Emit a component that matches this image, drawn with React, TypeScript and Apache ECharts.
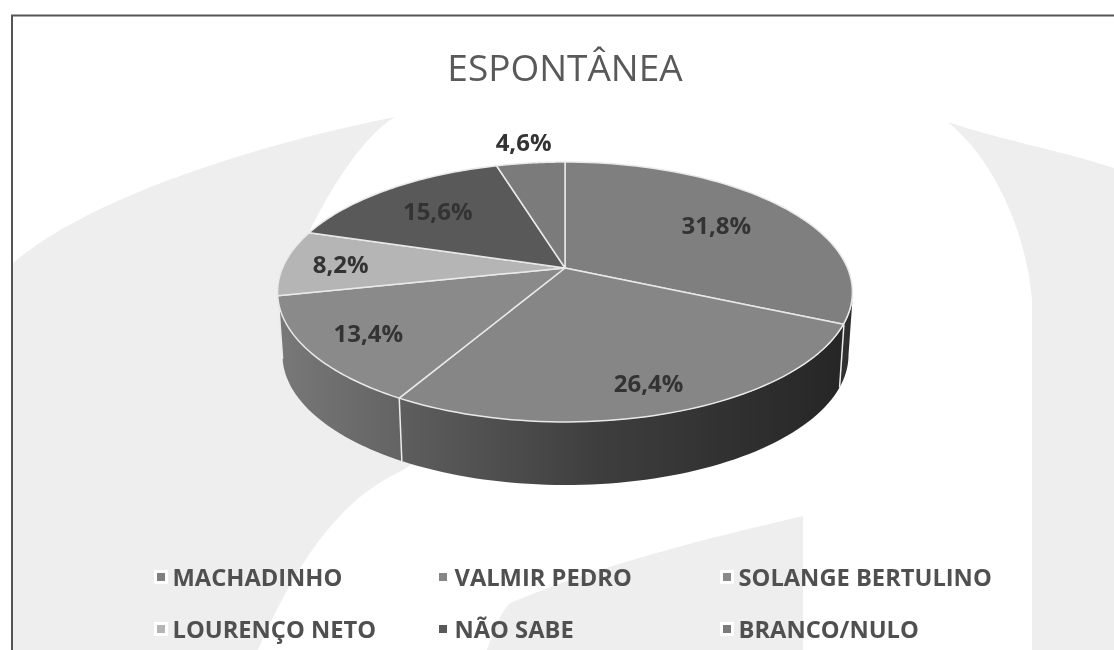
import React, { useEffect, useRef } from "react";
import * as echarts from "echarts";

const categories = ["MACHADINHO", "VALMIR PEDRO", "SOLANGE BERTULINO", "LOURENÇO NETO", "NÃO SABE", "BRANCO/NULO"];
const values = [31.8, 26.4, 13.4, 8.2, 15.6, 4.6];
const colors = ["#7f7f7f", "#868686", "#8a8a8a", "#b5b5b5", "#595959", "#7b7b7b"];
const legendColumns = [[0, 3], [1, 4], [2, 5]];
const legendLefts = [149, 431, 715];
const labelRadius = [0.68, 0.82, 0.79, 0.8, 0.7, 1.25];
const titleText = "ESPONTÂNEA";

const total = values.reduce((a, b) => a + b, 0);

// Perspective disc: the apex sits above the centre of the projected ellipse.
const APEX = { x: 565, y: 268 };
const TILT = 0.1846;
const AX = 282.5;
const AY = 125.5;
const TOP_E = { cx: 565.5, cy: 292, rx: 287.5, ry: 130 };
const BOT_E = { cx: 565.5, cy: 355, rx: 283, ry: 130 };

const project = (theta: number, r = 1) => {
  const X = Math.sin(theta) * r;
  const Y = -Math.cos(theta) * r;
  const w = 1 - TILT * Y;
  return [APEX.x + (AX * X) / w, APEX.y + (AY * Y) / w];
};
const toParam = (theta: number) => {
  const [x, y] = project(theta);
  let a = Math.atan2((y - TOP_E.cy) / TOP_E.ry, (x - TOP_E.cx) / TOP_E.rx);
  if (a < -Math.PI / 2 - 0.02) a += Math.PI * 2;
  return a;
};
const onEllipse = (e: typeof TOP_E, a: number) => [e.cx + e.rx * Math.cos(a), e.cy + e.ry * Math.sin(a)];

const sideGradients: any[] = [
  new echarts.graphic.LinearGradient(835, 0, 855, 0, [{ offset: 0, color: "#333333" }, { offset: 1, color: "#2e2e2e" }], true),
  new echarts.graphic.LinearGradient(400, 0, 840, 0, [{ offset: 0, color: "#5e5e5e" }, { offset: 0.45, color: "#3e3e3e" }, { offset: 1, color: "#262626" }], true),
  new echarts.graphic.LinearGradient(280, 0, 402, 0, [{ offset: 0, color: "#787878" }, { offset: 1, color: "#636363" }], true),
  "#777777",
  "#555555",
  "#6f6f6f",
];

echarts.graphic.registerShape("wmLeft", echarts.graphic.extendPath("M13 263 C80 205 230 150 395 117 C367 133 335 180 310 230 L330 300 L450 440 L403 470 C360 490 310 530 258 650 L13 650 Z", {}));
echarts.graphic.registerShape("wmMid", echarts.graphic.extendPath("M487 650 C495 625 503 610 510 603 C600 565 700 540 803 516 L803 650 Z", {}));
echarts.graphic.registerShape("wmRight", echarts.graphic.extendPath("M948 122 C1000 140 1060 150 1114 168 L1114 650 L1032 650 L1032 300 C1028 250 1005 170 948 122 Z", {}));

const sliceSeries = (i: number) => ({
  type: "custom",
  name: categories[i],
  coordinateSystem: "none",
  data: [[values[i]]],
  itemStyle: { color: colors[i] },
  silent: true,
  renderItem: (_p: any, api: any) => {
    const v = api.value(0);
    const before = values.slice(0, i).reduce((a, b) => a + b, 0);
    const t0 = (before / total) * Math.PI * 2;
    const t1 = ((before + v) / total) * Math.PI * 2;
    const n = 60;
    const arc: number[][] = [];
    for (let k = 0; k <= n; k++) arc.push(project(t0 + ((t1 - t0) * k) / n));
    const children: any[] = [];

    const a0 = toParam(t0);
    const a1 = i === values.length - 1 ? Math.PI * 1.5 : toParam(t1);
    const lo = Math.max(a0, 0);
    const hi = Math.min(a1, Math.PI);
    if (hi > lo) {
      const pts: number[][] = [];
      for (let k = 0; k <= n; k++) pts.push(onEllipse(TOP_E, lo + ((hi - lo) * k) / n));
      for (let k = n; k >= 0; k--) pts.push(onEllipse(BOT_E, lo + ((hi - lo) * k) / n));
      children.push({ type: "polygon", z2: 0, shape: { points: pts }, style: { fill: sideGradients[i] } });
      if (a0 > 0 && a0 < Math.PI) {
        const p = onEllipse(TOP_E, a0);
        const q = onEllipse(BOT_E, a0);
        children.push({ type: "line", z2: 1, shape: { x1: p[0], y1: p[1], x2: q[0], y2: q[1] }, style: { stroke: "#ececec", lineWidth: 1.5 } });
      }
    }

    children.push({
      type: "polygon",
      z2: 2,
      shape: { points: [[APEX.x, APEX.y], ...arc] },
      style: { fill: colors[i], stroke: "#e9e9e9", lineWidth: 1.5, lineJoin: "round" },
    });

    const mid = (t0 + t1) / 2;
    const [lx, ly] = project(mid, labelRadius[i]);
    children.push({
      type: "text",
      z2: 3,
      style: {
        x: lx,
        y: ly,
        text: v.toFixed(1).replace(".", ",") + "%",
        fill: "#333333",
        font: 'bold 24px "Open Sans"',
        align: "center",
        verticalAlign: "middle",
      },
    });
    return { type: "group", children };
  },
});

export default function App() {
  const ref = useRef<HTMLDivElement>(null);
  useEffect(() => {
    const chart = echarts.init(ref.current!, null, { renderer: "svg" });
    chart.setOption({
      animation: false,
      backgroundColor: "#ffffff",
      title: {
        text: titleText,
        left: 560,
        top: 43,
        textAlign: "center",
        textStyle: { fontFamily: "Open Sans", fontSize: 37, fontWeight: "normal", color: "#595959" },
      },
      legend: legendColumns.map((col, j) => ({
        data: col.map((i) => categories[i]),
        orient: "vertical",
        left: legendLefts[j],
        top: 560,
        icon: "rect",
        itemWidth: 11,
        itemHeight: 11,
        itemGap: 28,
        selectedMode: false,
        itemStyle: { borderColor: "#ffffff", borderWidth: 3 },
        textStyle: { fontFamily: "Open Sans", fontSize: 23.7, fontWeight: "bold", color: "#505050", padding: [0, 0, 0, 1] },
      })),
      graphic: {
        elements: [
          { type: "wmLeft", z: -1, style: { fill: "#eeeeee" } },
          { type: "wmMid", z: -1, style: { fill: "#eeeeee" } },
          { type: "wmRight", z: -1, style: { fill: "#eeeeee" } },
          { type: "polyline", z: 100, shape: { points: [[12, 650], [12, 15.5], [1114, 15.5]] }, style: { fill: "none", stroke: "#555555", lineWidth: 2 } },
        ],
      },
      series: values.map((_, i) => sliceSeries(i)),
    });
    return () => chart.dispose();
  }, []);
  return <div ref={ref} style={{ position: "absolute", left: 0, top: 0, width: 1114, height: 650, filter: "blur(0.6px)" }} />;
}
